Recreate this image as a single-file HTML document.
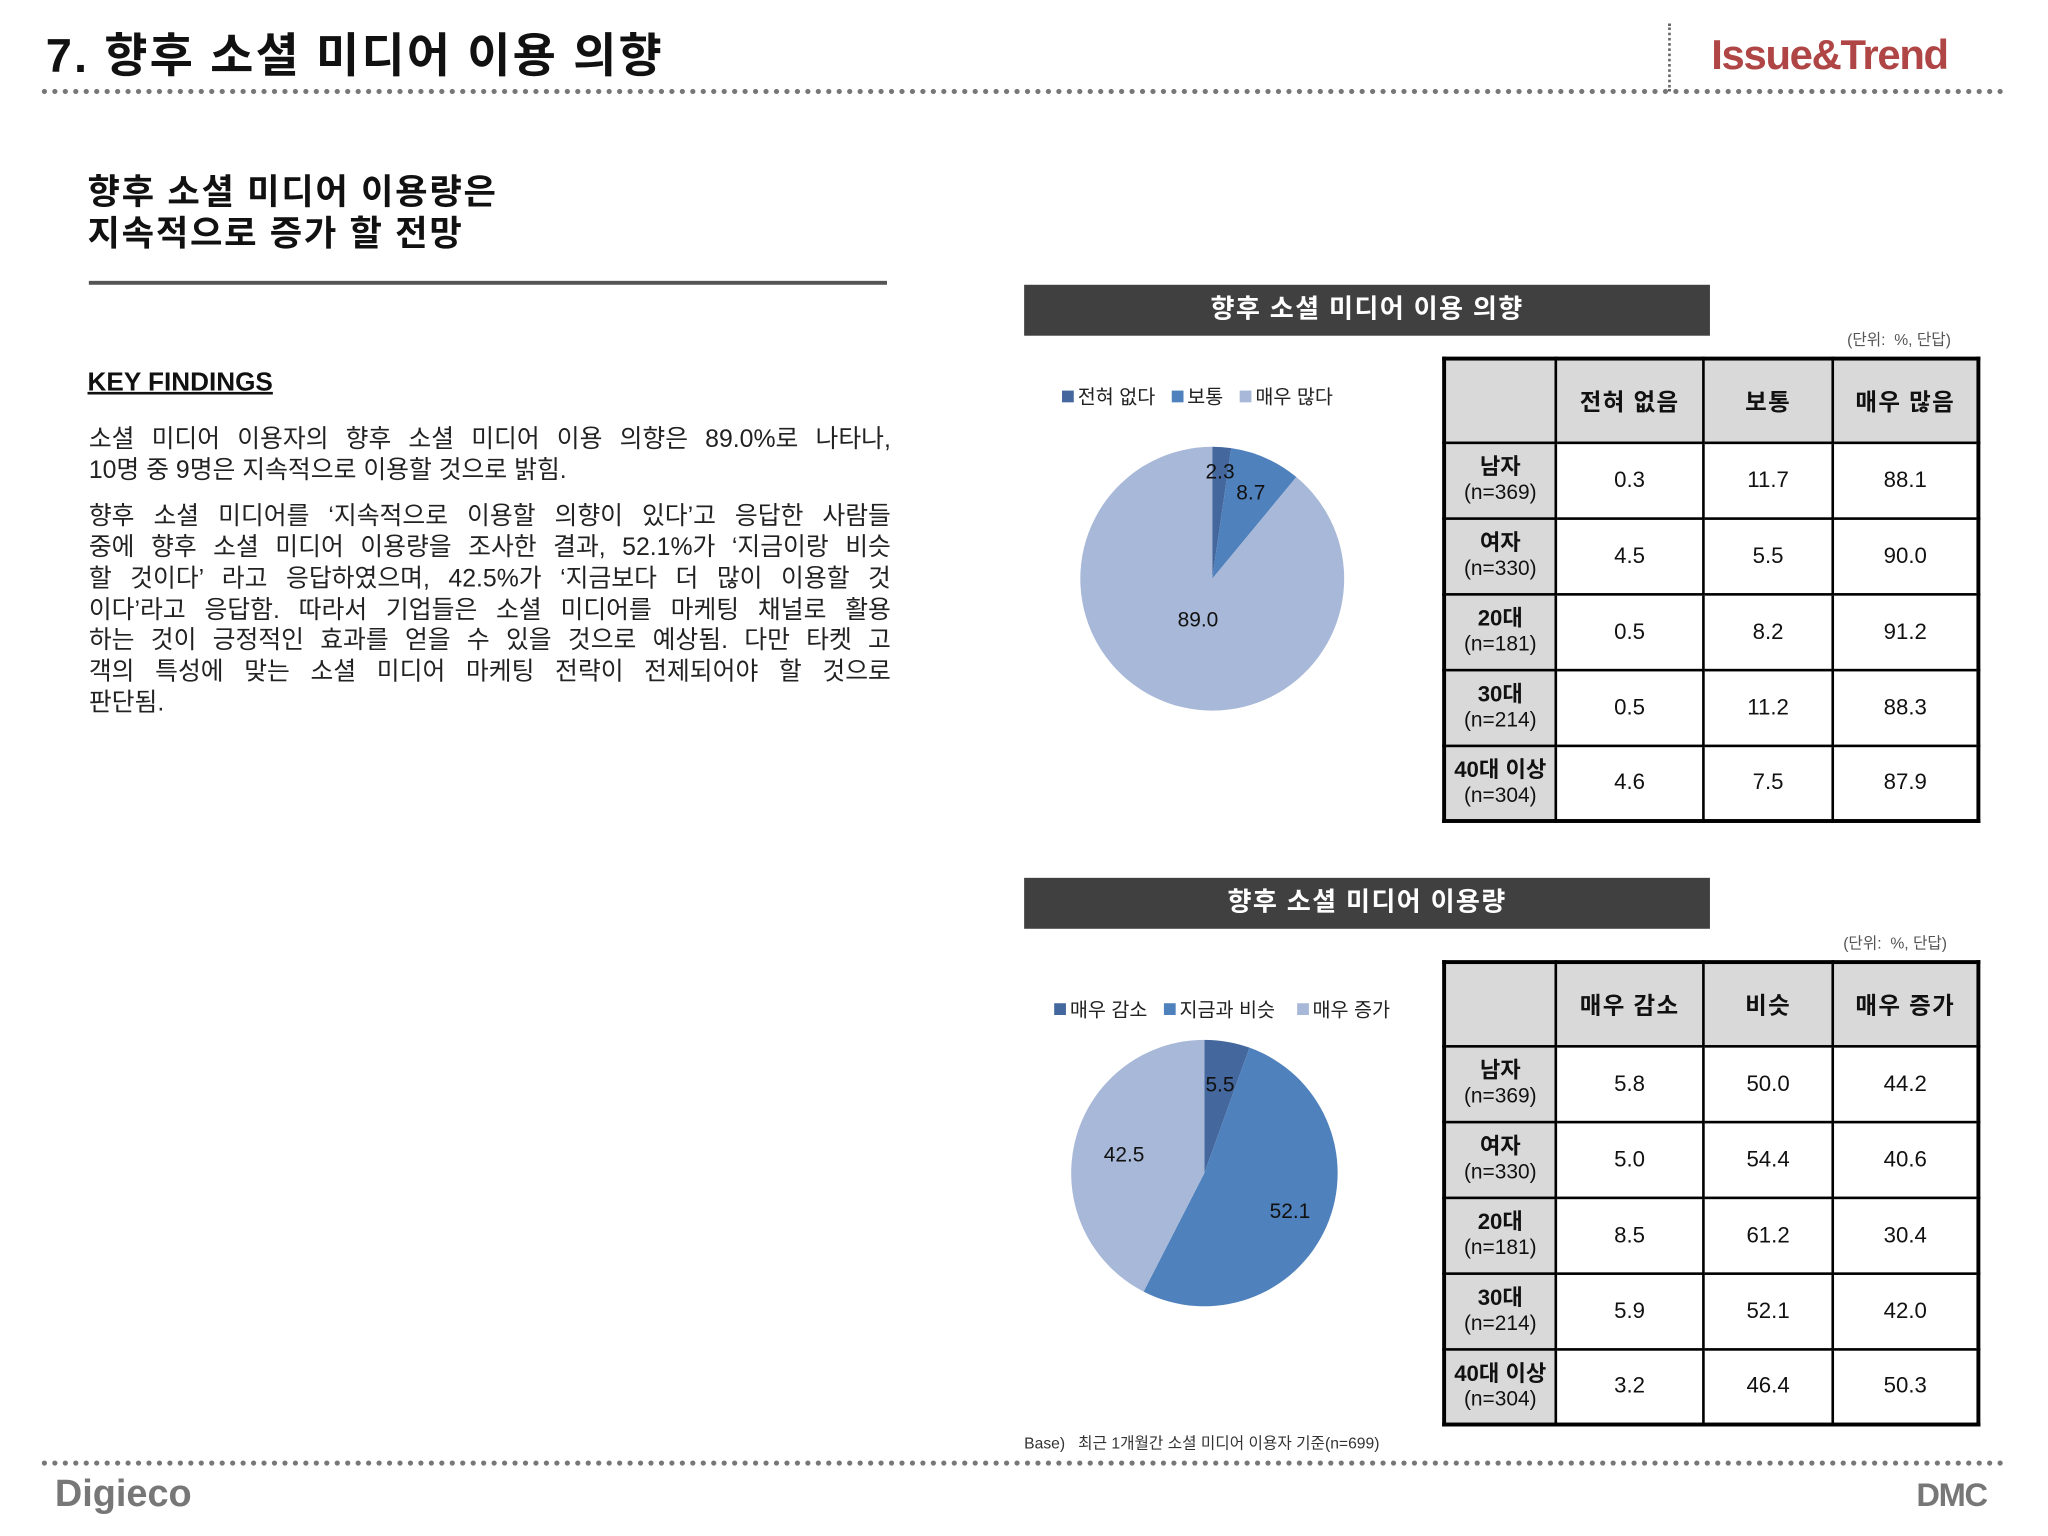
<!DOCTYPE html>
<html><head><meta charset="utf-8">
<style>
html,body{margin:0;padding:0;background:#fff;}
body{width:2048px;height:1536px;overflow:hidden;position:relative;}
#wrap{position:absolute;left:0;top:0;width:1570px;height:1176px;transform:scale(1.3063);transform-origin:0 0;font-family:"Liberation Sans","Noto Sans CJK KR",sans-serif;color:#111;}
.abs{position:absolute;}
.dots{position:absolute;height:0;border-top:4px dotted #777;}
.hdr{position:absolute;left:784px;width:525px;height:39px;background:#404040;color:#fff;font-weight:bold;font-size:20px;line-height:39px;text-align:center;letter-spacing:1px;}
.unit{position:absolute;font-size:12px;color:#555;}
table.t{position:absolute;left:1104px;border-collapse:collapse;border:3px solid #000;}
table.t td{border:2px solid #000;text-align:center;font-size:17px;padding:0;}
table.t td.h{background:#d9d9d9;font-weight:bold;font-size:18px;letter-spacing:1px;}
table.t td.r{background:#d9d9d9;font-size:16px;line-height:19px;}
table.t td.r b{font-size:17px;}
.leg{position:absolute;font-size:15px;color:#222;white-space:nowrap;}
.leg span.sq{display:inline-block;width:9px;height:9px;margin-right:3px;vertical-align:1px;}
.ln{text-align:justify;text-align-last:justify;white-space:nowrap;}
.ln.last{text-align-last:left;}
</style></head><body>
<div id="wrap">
<div class="abs" style="left:35px;top:14px;font-size:36px;font-weight:bold;letter-spacing:1.6px;">7. 향후 소셜 미디어 이용 의향</div>
<div class="abs" style="left:1277px;top:18px;height:52px;border-left:2px dotted #666;"></div>
<div class="abs" style="left:1310px;top:24px;font-size:32px;font-weight:bold;color:#b04545;letter-spacing:-1px;">Issue&amp;Trend</div>
<div class="dots" style="left:32px;top:68px;width:1503px;"></div>

<div class="abs" style="left:67px;top:131px;font-size:27px;font-weight:bold;line-height:32px;letter-spacing:1.3px;">향후 소셜 미디어 이용량은<br>지속적으로 증가 할 전망</div>
<div class="abs" style="left:68px;top:215px;width:611px;height:3px;background:#555;"></div>
<div class="abs" style="left:67px;top:282px;font-size:20px;font-weight:bold;text-decoration:underline;">KEY FINDINGS</div>
<div class="abs" style="left:68px;top:325px;width:614px;font-size:19px;line-height:23.7px;color:#222;">
<div>
<div class="ln">소셜 미디어 이용자의 향후 소셜 미디어 이용 의향은 89.0%로 나타나,</div>
<div class="ln last">10명 중 9명은 지속적으로 이용할 것으로 밝힘.</div>
</div>
<div style="margin-top:12px;">
<div class="ln">향후 소셜 미디어를 ‘지속적으로 이용할 의향이 있다’고 응답한 사람들</div>
<div class="ln">중에 향후 소셜 미디어 이용량을 조사한 결과, 52.1%가 ‘지금이랑 비슷</div>
<div class="ln">할 것이다’ 라고 응답하였으며, 42.5%가 ‘지금보다 더 많이 이용할 것</div>
<div class="ln">이다’라고 응답함. 따라서 기업들은 소셜 미디어를 마케팅 채널로 활용</div>
<div class="ln">하는 것이 긍정적인 효과를 얻을 수 있을 것으로 예상됨. 다만 타켓 고</div>
<div class="ln">객의 특성에 맞는 소셜 미디어 마케팅 전략이 전제되어야 할 것으로</div>
<div class="ln last">판단됨.</div>
</div>
</div>

<div class="hdr" style="top:218px;">향후 소셜 미디어 이용 의향</div>
<div class="unit" style="left:1414px;top:251px;">(단위:&nbsp; %, 단답)</div>
<div class="leg" style="left:813px;top:293px;">
<span><span class="sq" style="background:#44689e"></span>전혀 없다</span>&nbsp;&nbsp;
<span><span class="sq" style="background:#4f81bd"></span>보통</span>&nbsp;&nbsp;
<span><span class="sq" style="background:#a8b8d8"></span>매우 많다</span></div>
<svg id="pie1" class="abs" style="left:0;top:0" width="1570" height="1176"></svg>

<table class="t" style="top:273px;">
<tr style="height:64px"><td class="h" style="width:83px"></td><td class="h" style="width:111px">전혀 없음</td><td class="h" style="width:97px">보통</td><td class="h" style="width:109px">매우 많음</td></tr>
<tr style="height:58px"><td class="r"><b>남자</b><br>(n=369)</td><td>0.3</td><td>11.7</td><td>88.1</td></tr>
<tr style="height:58px"><td class="r"><b>여자</b><br>(n=330)</td><td>4.5</td><td>5.5</td><td>90.0</td></tr>
<tr style="height:58px"><td class="r"><b>20대</b><br>(n=181)</td><td>0.5</td><td>8.2</td><td>91.2</td></tr>
<tr style="height:58px"><td class="r"><b>30대</b><br>(n=214)</td><td>0.5</td><td>11.2</td><td>88.3</td></tr>
<tr style="height:58px"><td class="r"><b>40대 이상</b><br>(n=304)</td><td>4.6</td><td>7.5</td><td>87.9</td></tr>
</table>

<div class="hdr" style="top:672px;">향후 소셜 미디어 이용량</div>
<div class="unit" style="left:1411px;top:713px;">(단위:&nbsp; %, 단답)</div>
<div class="leg" style="left:807px;top:762px;">
<span><span class="sq" style="background:#44689e"></span>매우 감소</span>&nbsp;&nbsp;
<span><span class="sq" style="background:#4f81bd"></span>지금과 비슷</span>&nbsp;&nbsp;&nbsp;
<span><span class="sq" style="background:#a8b8d8"></span>매우 증가</span></div>

<table class="t" style="top:735px;">
<tr style="height:64px"><td class="h" style="width:83px"></td><td class="h" style="width:111px">매우 감소</td><td class="h" style="width:97px">비슷</td><td class="h" style="width:109px">매우 증가</td></tr>
<tr style="height:58px"><td class="r"><b>남자</b><br>(n=369)</td><td>5.8</td><td>50.0</td><td>44.2</td></tr>
<tr style="height:58px"><td class="r"><b>여자</b><br>(n=330)</td><td>5.0</td><td>54.4</td><td>40.6</td></tr>
<tr style="height:58px"><td class="r"><b>20대</b><br>(n=181)</td><td>8.5</td><td>61.2</td><td>30.4</td></tr>
<tr style="height:58px"><td class="r"><b>30대</b><br>(n=214)</td><td>5.9</td><td>52.1</td><td>42.0</td></tr>
<tr style="height:58px"><td class="r"><b>40대 이상</b><br>(n=304)</td><td>3.2</td><td>46.4</td><td>50.3</td></tr>
</table>

<div class="abs" style="left:784px;top:1096px;font-size:12px;color:#333;">Base)&nbsp;&nbsp; 최근 1개월간 소셜 미디어 이용자 기준(n=699)</div>
<div class="dots" style="left:32px;top:1118px;width:1503px;"></div>
<div class="abs" style="left:42px;top:1128px;font-size:29px;font-weight:bold;color:#777;">Digieco</div>
<div class="abs" style="left:1467px;top:1131px;font-size:25px;font-weight:bold;color:#777;letter-spacing:-1px;">DMC</div>
</div>
<script>
const pie1Labels = ["2.3","8.7","89.0"];
const pie1Values = [2.3, 8.7, 89.0];
const pie2Labels = ["5.5","52.1","42.5"];
const pie2Values = [5.5, 52.1, 42.5];
const colors = ["#44689e","#4f81bd","#a8b8d8"];
const NS = "http://www.w3.org/2000/svg";
const svg = document.getElementById('pie1');
function drawPie(values, labels, cx, cy, r, labR, prefix){
  const total = values.reduce((a,b)=>a+b,0);
  let a0 = 0;
  const texts = [];
  values.forEach((v,i)=>{
    const a1 = a0 + v/total*Math.PI*2;
    const x0 = cx + r*Math.sin(a0), y0 = cy - r*Math.cos(a0);
    const x1 = cx + r*Math.sin(a1), y1 = cy - r*Math.cos(a1);
    const large = (a1-a0) > Math.PI ? 1 : 0;
    const p = document.createElementNS(NS,'path');
    p.setAttribute('d',`M${cx},${cy} L${x0},${y0} A${r},${r} 0 ${large} 1 ${x1},${y1} Z`);
    p.setAttribute('fill',colors[i]);
    
    
    svg.appendChild(p);
    const am = (a0+a1)/2;
    const t = document.createElementNS(NS,'text');
    t.setAttribute('x', cx + labR[i]*r*Math.sin(am));
    t.setAttribute('y', cy - labR[i]*r*Math.cos(am) + 6);
    t.setAttribute('text-anchor','middle');
    t.setAttribute('font-size','16');
    t.setAttribute('font-family','"Liberation Sans", sans-serif');
    t.setAttribute('fill','#111');
    t.textContent = labels[i];
    
    
    texts.push(t);
    a0 = a1;
  });
  texts.forEach(t=>svg.appendChild(t));
}
drawPie(pie1Values, pie1Labels, 928, 443, 101, [0.82,0.72,0.32], 'pie1');
drawPie(pie2Values, pie2Labels, 922, 898, 102, [0.68,0.7,0.62], 'pie2');
</script>
</body></html>
